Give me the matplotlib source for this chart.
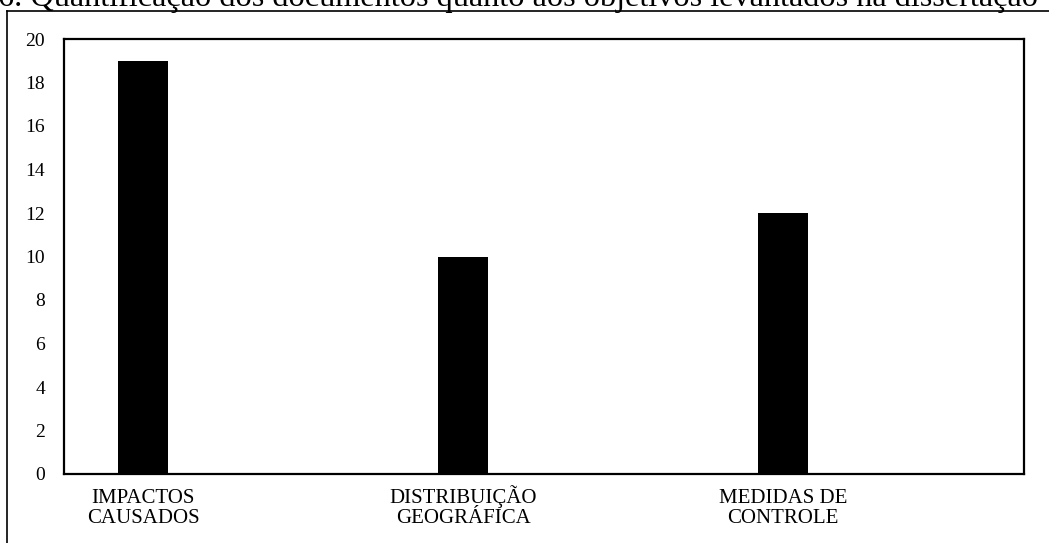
import matplotlib
matplotlib.use("Agg")
import matplotlib.pyplot as plt
from matplotlib.lines import Line2D
from matplotlib.transforms import blended_transform_factory

categories = ["IMPACTOS\nCAUSADOS", "DISTRIBUIÇÃO\nGEOGRÁFICA", "MEDIDAS DE\nCONTROLE"]
values = [19, 10, 12]
yticks = [0, 2, 4, 6, 8, 10, 12, 14, 16, 18, 20]
title = "6. Quantificação dos documentos quanto aos objetivos levantados na dissertação"

plt.rcParams["font.family"] = ["Liberation Serif", "DejaVu Serif"]

W, H = 1049, 543
fig = plt.figure(figsize=(W / 100, H / 100), dpi=100)
ax = fig.add_axes([64 / W, 1 - 474 / H, (1024 - 64) / W, (474 - 39) / H])

x = list(range(len(categories)))
ax.bar(x, values, width=0.156, color="black")
ax.set_xlim(-0.247, len(categories) - 0.247)
ax.set_ylim(0, 20)
ax.set_yticks(yticks)
ax.set_yticklabels([str(t) for t in yticks], fontsize=14)
ax.set_xticks(x)
ax.set_xticklabels([])
ax.tick_params(axis="both", length=0)
ax.tick_params(axis="y", pad=13.5)
for s in ax.spines.values():
    s.set_linewidth(1.6)
    s.set_color("black")

# category labels, two lines each, sharing a common baseline
trans = blended_transform_factory(ax.transData, fig.transFigure)
for xi, lab in zip(x, categories):
    first, second = lab.split("\n")
    ax.text(xi, 1 - 503 / H, first, transform=trans, ha="center", va="baseline",
            fontsize=15)
    ax.text(xi, 1 - 523 / H, second, transform=trans, ha="center", va="baseline",
            fontsize=15)

# outer frame of the figure panel
fig.add_artist(Line2D([7 / W, 7 / W], [0, 1 - 11 / H], transform=fig.transFigure,
                      color="black", lw=1.2))
fig.add_artist(Line2D([7 / W, 1.0], [1 - 11 / H, 1 - 11 / H], transform=fig.transFigure,
                      color="black", lw=1.2))

fig.text(-2 / W, 1 - 6 / H, title, fontsize=23.2, ha="left", va="baseline")

fig.savefig("out.png", dpi=100)
